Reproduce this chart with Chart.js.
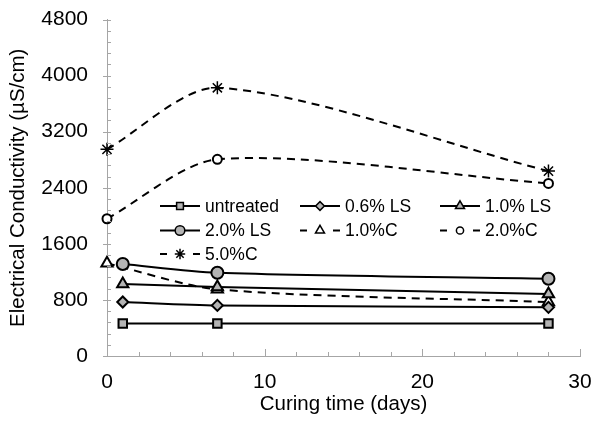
<!DOCTYPE html>
<html>
<head>
<meta charset="UTF-8">
<script src="https://cdn.jsdelivr.net/npm/chart.js"></script>
<style>
  html, body { margin: 0; padding: 0; background: #fff; }
  #wrap { width: 603px; height: 424px; }
</style>
</head>
<body>
<div id="wrap"><canvas id="ecChart" width="603" height="424"></canvas></div>
<script>
// curing days
var daysLS = [1, 7, 28];
var daysC = [0, 7, 28];

// electrical conductivity, uS/cm
var untreated = [465, 465, 465];
var ls06 = [770, 722, 694];
var ls10 = [1027, 985, 884];
var ls20 = [1312, 1188, 1102];
var c10 = [1322, 951, 770];
var c20 = [1958, 2805, 2462];
var c50 = [2948, 3826, 2638];

var seriesNames = ['untreated', '0.6% LS', '1.0% LS', '2.0% LS', '1.0%C', '2.0%C', '5.0%C'];

var yTicks = [0, 800, 1600, 2400, 3200, 4000, 4800];
var xTicks = [0, 10, 20, 30];

var grey = '#b4b4b4';
var axisGrey = '#a6a6a6';
var font = 'Liberation Sans, Arial, sans-serif';

function pts(xs, ys) {
    return xs.map(function (x, i) { return { x: x, y: ys[i] }; });
}

function series(label, xs, ys, style, fill, radius, dashed) {
    return {
        label: label,
        data: pts(xs, ys),
        showLine: true,
        borderColor: '#000',
        borderWidth: 2,
        borderDash: dashed ? [8, 6] : [],
        tension: 0.28,
        pointStyle: style,
        pointRadius: radius,
        pointBackgroundColor: fill,
        pointBorderColor: '#000',
        pointBorderWidth: style === 'star' ? 1.5 : 2,
        clip: false
    };
}

var datasets = [
    series(seriesNames[0], daysLS, untreated, 'rect', grey, 6, false),
    series(seriesNames[1], daysLS, ls06, 'rectRot', grey, 5.5, false),
    series(seriesNames[2], daysLS, ls10, 'triangle', grey, 6.5, false),
    series(seriesNames[3], daysLS, ls20, 'circle', grey, 6, false),
    series(seriesNames[4], daysC, c10, 'triangle', '#fff', 6.5, true),
    series(seriesNames[5], daysC, c20, 'circle', '#fff', 4.5, true),
    series(seriesNames[6], daysC, c50, 'star', '#000', 6.5, true)
];

// inward tick marks, major and minor
var tickMarks = {
    id: 'tickMarks',
    afterDraw: function (chart) {
        var ctx = chart.ctx;
        var xs = chart.scales.x, ys = chart.scales.y;
        var a = chart.chartArea;
        ctx.save();
        ctx.strokeStyle = axisGrey;
        ctx.lineWidth = 1;
        ctx.beginPath();
        for (var v = 0; v <= 30; v += 2) {
            var px = Math.round(xs.getPixelForValue(v)) + 0.5;
            var len = v % 10 === 0 ? 7 : 4;
            ctx.moveTo(px, a.bottom);
            ctx.lineTo(px, a.bottom - len);
        }
        for (var w = 0; w <= 4800; w += 160) {
            var py = Math.round(ys.getPixelForValue(w)) + 0.5;
            var major = w % 800 === 0;
            ctx.moveTo(a.left - (major ? 4 : 0), py);
            ctx.lineTo(a.left + 4, py);
        }
        ctx.stroke();
        ctx.restore();
    }
};

// legend inside the plot: line sample with marker, three columns
var insideLegend = {
    id: 'insideLegend',
    afterDraw: function (chart) {
        var ctx = chart.ctx;
        var colX = [160, 300, 440];
        var rowY = [206, 230.5, 254];
        ctx.save();
        ctx.font = '17.5px ' + font;
        ctx.textBaseline = 'middle';
        chart.data.datasets.forEach(function (ds, i) {
            var x = colX[i % 3], y = rowY[Math.floor(i / 3)];
            ctx.strokeStyle = '#000';
            ctx.lineWidth = 2;
            ctx.beginPath();
            if (ds.borderDash.length) {
                ctx.moveTo(x, y); ctx.lineTo(x + 7, y);
                ctx.moveTo(x + 33, y); ctx.lineTo(x + 40, y);
            } else {
                ctx.moveTo(x, y); ctx.lineTo(x + 40, y);
            }
            ctx.stroke();
            ctx.fillStyle = ds.pointBackgroundColor;
            ctx.strokeStyle = '#000';
            ctx.lineWidth = 1.5;
            Chart.helpers.drawPoint(ctx, {
                pointStyle: ds.pointStyle,
                radius: ds.pointRadius * 0.8,
                rotation: 0,
                borderWidth: 1.5
            }, x + 20, y);
            ctx.fillStyle = '#000';
            ctx.fillText(ds.label, x + 45, y + 1);
        });
        ctx.restore();
    }
};

var ctxEC = document.getElementById('ecChart').getContext('2d');
var ecChart = new Chart(ctxEC, {
    type: 'scatter',
    data: { datasets: datasets },
    options: {
        responsive: false,
        animation: false,
        layout: { padding: { top: 19.5, right: 23, left: 0, bottom: 0 } },
        plugins: {
            legend: { display: false },
            tooltip: { enabled: false }
        },
        scales: {
            x: {
                type: 'linear',
                min: 0, max: 30,
                afterBuildTicks: function (s) { s.ticks = xTicks.map(function (v) { return { value: v }; }); },
                afterFit: function (s) { s.height = 68; s.paddingLeft = 0; s.paddingRight = 0; },
                grid: { display: false, drawTicks: false },
                border: { display: true, color: axisGrey, width: 1 },
                ticks: {
                    color: '#000', padding: 14, font: { family: font, size: 21 },
                    callback: function (v) { return String(v); }
                },
                title: {
                    display: true,
                    text: 'Curing time (days)',
                    color: '#000',
                    font: { family: font, size: 20.5 },
                    padding: { top: 0, bottom: 7 }
                }
            },
            y: {
                min: 0, max: 4800,
                afterBuildTicks: function (s) { s.ticks = yTicks.map(function (v) { return { value: v }; }); },
                afterFit: function (s) { s.width = 107; s.paddingTop = 0; s.paddingBottom = 0; },
                grid: { display: false, drawTicks: false },
                border: { display: true, color: axisGrey, width: 1 },
                ticks: {
                    color: '#000', padding: 19, font: { family: font, size: 21 },
                    callback: function (v) { return String(v); }
                },
                title: {
                    display: true,
                    text: 'Electrical Conductivity (µS/cm)',
                    color: '#000',
                    font: { family: font, size: 20.5 },
                    padding: { top: 6, bottom: 0 }
                }
            }
        }
    },
    plugins: [tickMarks, insideLegend]
});
</script>
</body>
</html>
